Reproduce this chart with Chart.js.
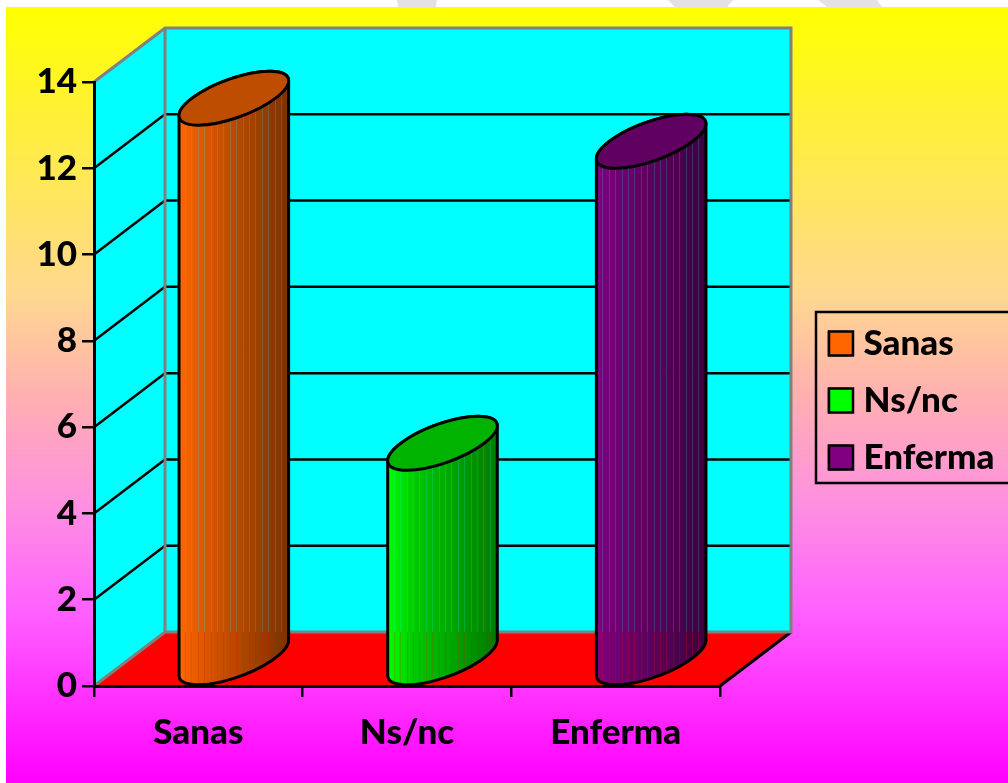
<!DOCTYPE html>
<html lang="es">
<head>
<meta charset="utf-8">
<title>Sanas / Ns/nc / Enferma</title>
<style>
  html, body { margin: 0; padding: 0; background: #fff; overflow: hidden; }
  canvas { display: block; }
</style>
<script src="https://cdn.jsdelivr.net/npm/chart.js@4/dist/chart.umd.js"></script>
</head>
<body>
<canvas id="chart-salud" width="1008" height="783"></canvas>
<script>
/* ---- Datos ---- */
const categories = ['Sanas', 'Ns/nc', 'Enferma'];
const values = [13, 5, 12];
const yMax = 14;
const yStep = 2;

/* ---- Estilos ---- */
const FONT = { family: "Lato, 'Open Sans', sans-serif", size: 35, weight: 900 };
const COLORS = ['#ff6600', '#00ff00', '#800080'];
const MIDS = ['#d95600', '#00c800', '#6c006c'];
const TOPS = ['#bf4d00', '#00b300', '#600060'];
const ENDS = ['#7a3100', '#007a00', '#3d003d'];
const DEPTH = { x: 71, y: -54 };
const SWATCH = 24;

/* ---- Fondo y paredes 3D ---- */
function drawBackdrop(chart) {
  const { ctx, scales: { x, y } } = chart;
  const l = x.left, r = x.right, b = y.bottom, t = y.top;
  const dx = DEPTH.x, dy = DEPTH.y;
  const segment = (x1, y1, x2, y2) => {
    ctx.beginPath(); ctx.moveTo(x1, y1); ctx.lineTo(x2, y2); ctx.stroke();
  };
  const poly = pts => {
    ctx.beginPath();
    pts.forEach((p, i) => i ? ctx.lineTo(p[0], p[1]) : ctx.moveTo(p[0], p[1]));
    ctx.closePath();
  };

  ctx.save();
  // manchas grises de la diapositiva de atras
  ctx.fillStyle = '#e2e2e2';
  [[668, 733, 675, 727], [818, 877, 827, 882]].forEach(s => {
    poly([[s[0], 0], [s[1], 0], [s[3], 7], [s[2], 7]]);
    ctx.fill();
  });
  poly([[397, 0], [437, 0], [436, 7], [398, 7]]);
  ctx.fill();

  const grad = ctx.createLinearGradient(0, 7, 0, 783);
  grad.addColorStop(0, '#ffff00');
  grad.addColorStop(0.37, '#ffd890');
  grad.addColorStop(0.5, '#ffb0b0');
  grad.addColorStop(0.64, '#ff90e0');
  grad.addColorStop(0.78, '#ff60ff');
  grad.addColorStop(1, '#ff00ff');
  ctx.fillStyle = grad;
  ctx.fillRect(6, 7, 1002, 776);

  // paredes y suelo
  ctx.fillStyle = '#00ffff';
  poly([[l, b], [l, t], [l + dx, t + dy], [r + dx, t + dy], [r + dx, b + dy], [l + dx, b + dy]]);
  ctx.fill();
  ctx.fillStyle = '#ff0000';
  poly([[l, b], [r, b], [r + dx, b + dy], [l + dx, b + dy]]);
  ctx.fill();

  // rejilla
  ctx.strokeStyle = '#000';
  ctx.lineWidth = 2.5;
  y.ticks.forEach(tick => {
    if (tick.value === 0 || tick.value === yMax) return;
    const py = y.getPixelForValue(tick.value);
    segment(l, py, l + dx, py + dy);
    segment(l + dx, py + dy, r + dx, py + dy);
  });
  ctx.lineWidth = 3;
  segment(r, b, r + dx, b + dy);

  // bordes grises
  ctx.strokeStyle = '#808080';
  ctx.lineWidth = 3;
  ctx.beginPath();
  ctx.moveTo(l, t);
  ctx.lineTo(l + dx, t + dy);
  ctx.lineTo(r + dx, t + dy);
  ctx.lineTo(r + dx, b + dy);
  ctx.lineTo(l + dx, b + dy);
  ctx.lineTo(l, b);
  ctx.moveTo(l + dx, t + dy);
  ctx.lineTo(l + dx, b + dy);
  ctx.stroke();
  ctx.restore();
}

/* ---- Cilindro a partir de la barra de Chart.js ---- */
function drawCylinder(chart, bar, i) {
  const { ctx, scales: { y } } = chart;
  const a = bar.width / 2;
  const vx = DEPTH.x / 2, vy = DEPTH.y / 2;
  const cx = bar.x + vx;
  const cyTop = bar.y + vy;
  const cyBase = bar.base + vy;
  const t0 = Math.atan2(vx, a);
  const half = Math.hypot(a, vx);
  const floorY = y.bottom + DEPTH.y;

  const unit = (cy, fn) => {
    ctx.save();
    ctx.transform(a, 0, vx, vy, cx, cy);
    fn();
    ctx.restore();
  };
  const bodyPath = () => {
    ctx.beginPath();
    unit(cyBase, () => ctx.arc(0, 0, 1, t0, t0 - Math.PI, true));
    unit(cyTop, () => ctx.arc(0, 0, 1, t0 - Math.PI, t0, true));
    ctx.closePath();
  };

  ctx.save();
  bodyPath();
  ctx.save();
  ctx.clip();
  const g = ctx.createLinearGradient(cx - half, 0, cx + half, 0);
  g.addColorStop(0, COLORS[i]);
  g.addColorStop(0.25, MIDS[i]);
  g.addColorStop(1, ENDS[i]);
  ctx.fillStyle = g;
  ctx.fillRect(cx - half - 2, bar.y + 2 * vy - 2, 2 * half + 4, bar.base - bar.y - 2 * vy + 4);
  // vetas de la trama original
  ctx.lineWidth = 1;
  for (let sx = cx - half + 6; sx < cx + half; sx += 6.4) {
    const px = Math.round(sx) + 0.5;
    ctx.strokeStyle = 'rgba(0,255,255,.2)';
    ctx.beginPath(); ctx.moveTo(px, bar.y + 2 * vy); ctx.lineTo(px, floorY); ctx.stroke();
    ctx.strokeStyle = 'rgba(255,0,0,.2)';
    ctx.beginPath(); ctx.moveTo(px, floorY); ctx.lineTo(px, bar.base + 2); ctx.stroke();
  }
  ctx.restore();

  ctx.strokeStyle = '#000';
  ctx.lineWidth = 3;
  bodyPath();
  ctx.stroke();

  ctx.beginPath();
  unit(cyTop, () => ctx.arc(0, 0, 1, 0, Math.PI * 2));
  ctx.closePath();
  ctx.fillStyle = TOPS[i];
  ctx.fill();
  ctx.stroke();
  ctx.restore();
}

/* ---- Plugin 3D ---- */
const cylinders3d = {
  id: 'cylinders3d',
  afterLayout(chart) {
    // leyenda fuera del area del grafico
    const lg = chart.legend;
    const pad = lg.options.labels.padding;
    lg.left = 829 - pad;
    lg.right = 1008;
    lg.top = 326 - pad;
    lg.bottom = 500;
  },
  beforeDraw(chart) {
    drawBackdrop(chart);
  },
  beforeDatasetDraw(chart, args) {
    const bar = args.meta.data[args.index];
    drawCylinder(chart, bar, args.index);
    return false;
  },
  afterDraw(chart) {
    const { ctx, legend } = chart;
    const pad = legend.options.labels.padding;
    ctx.save();
    // marco
    ctx.strokeStyle = '#000';
    ctx.lineWidth = 2.5;
    ctx.strokeRect(816, 312, 200, 171);
    // muestras de color
    categories.forEach((c, i) => {
      const top = legend.top + pad + i * (FONT.size + pad) + (FONT.size - SWATCH) / 2;
      ctx.fillStyle = COLORS[i];
      ctx.fillRect(legend.left + pad, top, SWATCH, SWATCH);
      ctx.strokeRect(legend.left + pad, top, SWATCH, SWATCH);
    });
    ctx.restore();
  }
};

/* ---- Grafico ---- */
new Chart(document.getElementById('chart-salud'), {
  type: 'bar',
  data: {
    labels: categories,
    datasets: categories.map((name, i) => ({
      label: name,
      data: categories.map((_, j) => (j === i ? values[i] : null)),
      backgroundColor: COLORS[i],
      borderColor: '#000',
      borderWidth: 2.5,
      barPercentage: 0.4,
      categoryPercentage: 1
    }))
  },
  options: {
    responsive: false,
    animation: false,
    layout: { padding: { left: 0, top: 82, right: 288, bottom: 0 } },
    plugins: {
      tooltip: { enabled: false },
      legend: {
        position: 'chartArea',
        align: 'start',
        labels: { boxWidth: 17, boxHeight: 23, padding: 22, color: '#000', font: FONT }
      }
    },
    scales: {
      x: {
        stacked: true,
        afterFit: s => { s.height = 97; },
        border: { color: '#000', width: 3 },
        grid: { drawOnChartArea: false, color: '#000', lineWidth: 2.5, tickLength: 11 },
        ticks: { color: '#000', font: FONT, padding: 15, maxRotation: 0 }
      },
      y: {
        stacked: true,
        min: 0,
        max: yMax,
        afterFit: s => { s.width = 94; },
        border: { color: '#000', width: 3 },
        grid: { drawOnChartArea: false, color: '#000', lineWidth: 2.5, tickLength: 12 },
        ticks: { stepSize: yStep, color: '#000', font: FONT, padding: 5 }
      }
    }
  },
  plugins: [cylinders3d]
});
</script>
</body>
</html>
